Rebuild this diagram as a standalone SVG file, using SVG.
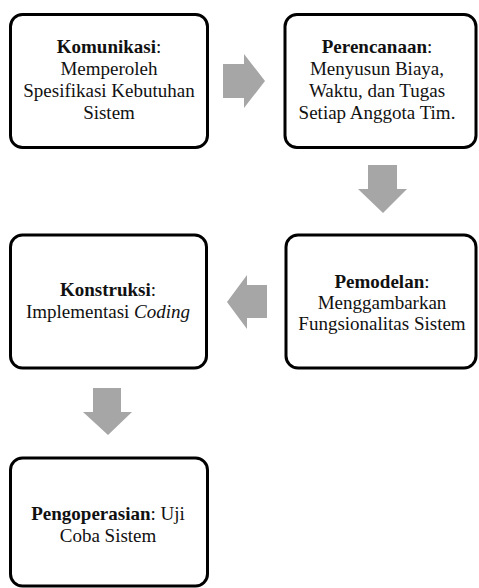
<svg xmlns="http://www.w3.org/2000/svg" width="479" height="588" viewBox="0 0 479 588">
<style>
.box{fill:#fff;stroke:#000;stroke-width:3}
.arr{fill:#a6a6a6;stroke:none}
text{font-family:'Liberation Serif','Times New Roman',serif;font-size:19px;fill:#111;text-anchor:middle}
.b{font-weight:bold}
.i{font-style:italic}
</style>
<rect width="479" height="588" fill="#fff"/>
<g id="connectors">
<polygon class="arr" points="223,64 244,64 244,54 265,81 244,108 244,98 223,98"/>
<polygon class="arr" points="368,165 397,165 397,189 407,189 383,213 358,189 368,189"/>
<polygon class="arr" points="267,285 247,285 247,275 227,302 247,329 247,318 267,318"/>
<polygon class="arr" points="93,388 121,388 121,412 132,412 108,435 83,412 93,412"/>
</g>
<g font-family="Liberation Serif, serif">
<g id="komunikasi">
<rect class="box" x="10.5" y="14.5" width="197" height="133" rx="12"/>
<text x="109" y="53"><tspan class="b">Komunikasi</tspan>:</text>
<text x="109" y="75">Memperoleh</text>
<text x="109" y="97">Spesifikasi Kebutuhan</text>
<text x="109" y="119">Sistem</text>
</g>
<g id="perencanaan">
<rect class="box" x="285" y="14.5" width="191" height="133" rx="12"/>
<text x="377" y="53"><tspan class="b">Perencanaan</tspan>:</text>
<text x="377" y="75">Menyusun Biaya,</text>
<text x="377" y="97">Waktu, dan Tugas</text>
<text x="377" y="119">Setiap Anggota Tim.</text>
</g>
<g id="pemodelan">
<rect class="box" x="286" y="235" width="190" height="133" rx="12"/>
<text x="382" y="288"><tspan class="b">Pemodelan</tspan>:</text>
<text x="382" y="309">Menggambarkan</text>
<text x="382" y="330">Fungsionalitas Sistem</text>
</g>
<g id="konstruksi">
<rect class="box" x="10.5" y="235" width="196" height="133" rx="12"/>
<text x="108" y="296"><tspan class="b">Konstruksi</tspan>:</text>
<text x="108" y="318">Implementasi <tspan class="i">Coding</tspan></text>
</g>
<g id="pengoperasian">
<rect class="box" x="10.5" y="458" width="197" height="128" rx="12"/>
<text x="108" y="520"><tspan class="b">Pengoperasian</tspan>: Uji</text>
<text x="108" y="542">Coba Sistem</text>
</g>
</g>
</svg>
